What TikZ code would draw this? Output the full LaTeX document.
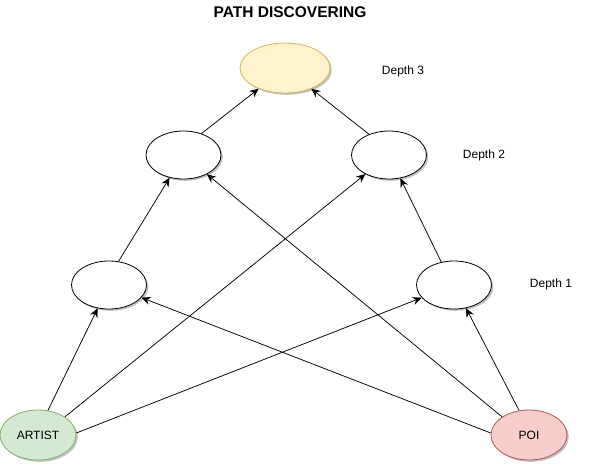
\documentclass[tikz,border=0pt]{standalone}
\usepackage{fontspec}
\setmainfont{Liberation Sans}
\usetikzlibrary{shapes.geometric,arrows.meta,shadows}
\definecolor{yfill}{HTML}{FFF2CC}
\definecolor{ystroke}{HTML}{D6B656}
\definecolor{gfill}{HTML}{D5E8D4}
\definecolor{gstroke}{HTML}{82B366}
\definecolor{rfill}{HTML}{F8CECC}
\definecolor{rstroke}{HTML}{B85450}
\begin{document}
\begin{tikzpicture}[x=1pt,y=-1pt,
  nd/.style={ellipse, draw, line width=0.8pt, minimum width=75pt, minimum height=48pt,
    inner sep=0pt, fill=white,
    drop shadow={shadow xshift=1.8pt, shadow yshift=-1.8pt, opacity=0.35, fill=black!70}},
  lbl/.style={font=\fontsize{12}{14}\selectfont},
  arr/.style={-{Stealth[length=9pt,width=8pt,inset=3pt]}, line width=0.75pt}]
\useasboundingbox (0,0) rectangle (589,464);

\node[font=\bfseries\fontsize{15.5}{18}\selectfont] (title) at (290,12) {PATH DISCOVERING};

\node[nd, fill=yfill, draw=ystroke, minimum width=90pt, minimum height=50pt] (top) at (285,68) {};
\node[nd] (d2l) at (183.5,155) {};
\node[nd] (d2r) at (389,155) {};
\node[nd] (d1l) at (109,285) {};
\node[nd] (d1r) at (454,285) {};
\node[nd, fill=gfill, draw=gstroke, minimum width=76pt, minimum height=50pt, lbl] (artist) at (38,435) {ARTIST};
\node[nd, fill=rfill, draw=rstroke, minimum width=76pt, minimum height=50pt, lbl] (poi) at (529,435) {POI};

\node[lbl] (l3) at (403,71) {Depth 3};
\node[lbl] (l2) at (484,155) {Depth 2};
\node[lbl] (l1) at (551,284) {Depth 1};

\draw[arr] (artist.68) -- (d1l);
\draw[arr] (artist.34) -- (d2r);
\draw[arr] (artist.3) -- (d1r);
\draw[arr] (poi.112) -- (d1r);
\draw[arr] (poi.146) -- (d2l);
\draw[arr] (poi.177) -- (d1l);
\draw[arr] (d1l.68) -- (d2l);
\draw[arr] (d1r.119) -- (d2r);
\draw[arr] (d2l.50) -- (top);
\draw[arr] (d2r.134) -- (top);
\end{tikzpicture}
\end{document}
